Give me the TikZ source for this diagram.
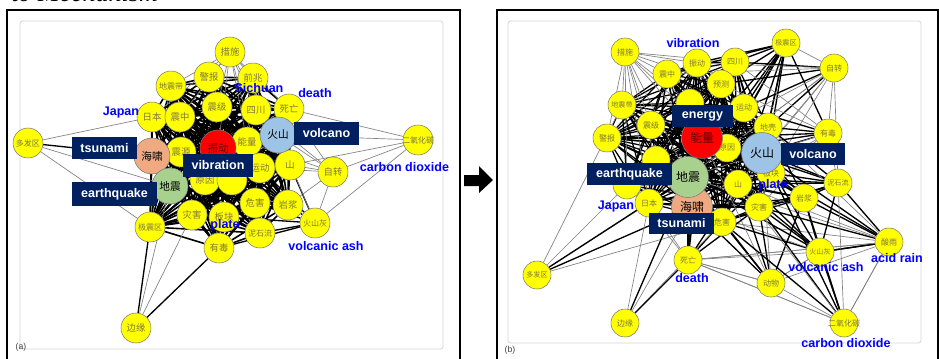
\documentclass[tikz,border=0pt]{standalone}
\usepackage{fontspec}
\setmainfont{Liberation Sans}
\newfontfamily\cjk{Noto Sans CJK SC}
\newfontfamily\tiser{Liberation Serif}
\pgfdeclarelayer{bgl}
\pgfdeclarelayer{edges}
\pgfsetlayers{bgl,edges,main}
\definecolor{nyel}{RGB}{255,255,0}
\definecolor{nbor}{RGB}{120,120,120}
\definecolor{ntxt}{RGB}{125,120,60}
\definecolor{nred}{RGB}{255,0,0}
\definecolor{nblu}{RGB}{157,195,230}
\definecolor{ngrn}{RGB}{169,209,142}
\definecolor{npk}{RGB}{240,170,130}
\definecolor{navy}{RGB}{0,32,96}
\definecolor{lblue}{RGB}{0,0,255}
\definecolor{fgray}{RGB}{215,215,215}
\definecolor{egray}{RGB}{130,130,130}
\tikzset{
  yn/.style={circle, draw=nbor, line width=0.4pt, fill=nyel, minimum size=22.5pt, inner sep=0pt, text=ntxt, font=\cjk\fontsize{7}{7}\selectfont},
  yn3/.style={yn, font=\cjk\fontsize{6}{6}\selectfont},
  yr/.style={yn, minimum size=21pt, font=\cjk\fontsize{6}{6}\selectfont},
  yr3/.style={yr, font=\cjk\fontsize{5.3}{5.3}\selectfont},
  bigl/.style={circle, draw=nbor, line width=0.4pt, minimum size=27pt, inner sep=0pt, text=black, font=\cjk\fontsize{8}{8}\selectfont},
  bigr/.style={bigl, minimum size=30.75pt, font=\cjk\fontsize{9}{9}\selectfont},
  wide/.style={label={[text=ntxt, font=\cjk\fontsize{6}{6}\selectfont]center:#1}},
  lbl/.style={text=lblue, inner sep=0pt, font=\bfseries\fontsize{9.4}{9.4}\selectfont},
  boxlab/.style={fill=navy, text=white, inner sep=0pt, font=\bfseries\fontsize{9.4}{9.4}\selectfont},
  corel/.style={black, line width=1.2pt},
  corer/.style={black, line width=0.95pt},
  bk/.style={black, line width=1pt},
  gy/.style={egray, line width=0.5pt},
  frm/.style={black, line width=1.5pt},
  ifrm/.style={fgray, line width=0.6pt, rounded corners=2pt},
  pan/.style={text=black!75, inner sep=0pt, font=\fontsize{6.5}{6.5}\selectfont}
}
\begin{document}
\begin{tikzpicture}[x=0.75pt,y=-0.75pt]
\useasboundingbox (0,0) rectangle (939,358);
\clip (0,0) rectangle (939,358);
\begin{pgfonlayer}{bgl}
\fill[white] (0,0) rectangle (939,358);
\draw[ifrm] (20,21) rectangle (443,349);
\draw[ifrm] (508,21) rectangle (921,343);
\end{pgfonlayer}
% title fragment
\node[anchor=base west, inner sep=0pt, font=\tiser\itshape\fontsize{19.5}{19.5}\selectfont] (title) at (11,1.5) {to Mechanism};
% frames
\draw[frm] (7,10) rectangle (460,380);
\draw[frm] (497,10) rectangle (938,380);
\node[pan] (pa) at (21,347) {(a)};
\node[pan] (pb) at (510,350) {(b)};
% arrow
\fill[black] (464,175) -- (479,175) -- (479,166) -- (493,180) -- (479,193) -- (479,186) -- (464,186) -- cycle;

% ================= LEFT PANEL NODES =================
\node[yn] (Lcs) at (230,52) {措施};
\node[yn] (Ljb) at (209,77) {警报};
\node[yn3] (Ldzd) at (171,86) {地震带};
\node[yn] (Lqz) at (253,78) {前兆};
\node[yn] (Lsc) at (256,110) {四川};
\node[yn] (Lsw) at (289,109) {死亡};
\node[yn] (Lzj) at (217,107) {震级};
\node[yn] (Lrb) at (152,117) {日本};
\node[yn] (Lzz) at (180,117) {震中};
\node[yn3] (Ldfq) at (28,143) {多发区};
\node[yn] (Lzy) at (181,152) {震源};
\node[yn] (Lnl) at (247,142) {能量};
\node[yn, wide=二氧化碳] (Leyh) at (418,140) {};
\node[yn] (Lsh) at (290,165) {山};
\node[yn] (Lyd) at (260,168) {运动};
\node[yn] (Lzzh) at (333,172) {自转};
\node[yn] (Lyy) at (205,180) {原因};
\node[yn] (Lhid) at (232,180) {};
\node[yn] (Lwh) at (255,203) {危害};
\node[yn] (Lyj) at (288,205) {岩浆};
\node[yn] (Lzh) at (192,215) {灾害};
\node[yn] (Lbk) at (224,217) {板块};
\node[yn3] (Ljzq) at (150,227) {极震区};
\node[yn3] (Lnsl) at (260,233) {泥石流};
\node[yn3] (Lhsh) at (315,223) {火山灰};
\node[yn] (Lyou) at (219,248) {有毒};
\node[yn] (Lby) at (136,328) {边缘};
\node[bigl, fill=npk] (Lhx) at (152,156) {海啸};
\node[bigl, fill=nred, text={rgb,255:red,90;green,0;blue,0}] (Lzd) at (218,148) {振动};
\node[bigl, fill=nblu] (Lhs) at (278,135) {火山};
\node[bigl, fill=ngrn] (Ldz) at (170,186) {地震};

% ================= RIGHT PANEL NODES =================
\node[yr] (Rcs) at (625,52) {措施};
\node[yr] (Rzd) at (697,63) {振动};
\node[yr] (Rzz) at (667,74) {震中};
\node[yr] (Rsc) at (735,62) {四川};
\node[yr3] (Rjzq) at (786,43) {极震区};
\node[yr] (Rzzh) at (834,68) {自转};
\node[yr] (Ryc) at (721,84) {预测};
\node[yr3] (Rdzd) at (622,105) {地震带};
\node[yr] (Ryd) at (744,108) {运动};
\node[yr] (Rh1) at (690,103) {};
\node[yr] (Rzj) at (651,125) {震级};
\node[yr] (Rjb) at (607,138) {警报};
\node[yr] (Rdq) at (768,127) {地壳};
\node[yr] (Ryou) at (828,133) {有毒};
\node[yr] (Ryy) at (727,148) {原因};
\node[yr] (Rh2) at (656,160) {};
\node[yr] (Rh3) at (627,185) {};
\node[yr] (Rsh) at (738,184) {山};
\node[yr] (Rbk) at (771,173) {板块};
\node[yr3] (Rnsl) at (838,183) {泥石流};
\node[yr] (Ryj) at (804,198) {岩浆};
\node[yr] (Rzh) at (759,207) {灾害};
\node[yr] (Rrb) at (649,203) {日本};
\node[yr] (Rwh) at (722,222) {危害};
\node[yr] (Rsw) at (688,260) {死亡};
\node[yr3] (Rdfq) at (537,275) {多发区};
\node[yr] (Rby) at (625,323) {边缘};
\node[yr3] (Rhsh) at (820,252) {火山灰};
\node[yr] (Rsuan) at (889,242) {酸雨};
\node[yr] (Rdw) at (771,283) {动物};
\node[yr, wide=二氧化碳] (Reyh) at (844,323) {};
\node[bigr, fill=nred, text={rgb,255:red,90;green,0;blue,0}] (Rnl) at (702,138) {能量};
\node[bigr, fill=nblu] (Rhs) at (762,153) {火山};
\node[bigr, fill=npk] (Rhx) at (692,207) {海啸};
\node[bigr, fill=ngrn] (Rdz) at (688,177) {地震};

% ================= EDGES =================
\begin{pgfonlayer}{edges}
% left core
\foreach \a [count=\i] in {Ljb,Ldzd,Lqz,Lsc,Lzj,Lrb,Lzz,Lhx,Lzd,Lzy,Lnl,Lhs,Lsw,Lsh,Lyd,Lyy,Lhid,Ldz,Lwh,Lyj,Lzh,Lbk,Ljzq,Lnsl,Lyou} {
  \foreach \b [count=\j] in {Ljb,Ldzd,Lqz,Lsc,Lzj,Lrb,Lzz,Lhx,Lzd,Lzy,Lnl,Lhs,Lsw,Lsh,Lyd,Lyy,Lhid,Ldz,Lwh,Lyj,Lzh,Lbk,Ljzq,Lnsl,Lyou} {
    \ifnum\j>\i \draw[corel] (\a) -- (\b); \fi
  }
}
\foreach \b in {Ljb,Lqz,Lsc,Lsw,Ldzd,Lzj,Lzz,Lnl,Lzd,Lhs,Lrb,Lyd}
  \draw[gy] (Lcs) -- (\b);
\foreach \b in {Lrb,Ldz,Ljzq} \draw[gy] (Ldfq) -- (\b);
\draw[bk] (Ldfq) -- (Lhx);
\foreach \b in {Lsw,Lhs,Lsh,Lzzh,Lhsh} \draw[gy] (Leyh) -- (\b);
\draw[bk] (Lby) -- (Ljzq);
\draw[bk] (Lby) -- (Lyou);
\draw[gy] (Lby) -- (Ldz);
\draw[gy] (Lby) -- (Lzh);
\foreach \b in {Lhs,Lsh,Lsw,Lyj,Lhsh,Lyd,Lsc,Lnl} \draw[gy] (Lzzh) -- (\b);
\foreach \b in {Lyj,Lnsl,Lsh,Lwh,Lyou,Lyd,Lbk} \draw[bk] (Lhsh) -- (\b);
\draw[gy] (Lhsh) -- (Lhs);

% right core
\foreach \a [count=\i] in {Rzz,Rzd,Rsc,Ryc,Ryd,Rdzd,Rzj,Rh1,Rnl,Ryy,Rdq,Rhs,Rh2,Rh3,Rdz,Rhx,Rsh,Rbk,Rzh,Rrb,Rwh,Rjb} {
  \foreach \b [count=\j] in {Rzz,Rzd,Rsc,Ryc,Ryd,Rdzd,Rzj,Rh1,Rnl,Ryy,Rdq,Rhs,Rh2,Rh3,Rdz,Rhx,Rsh,Rbk,Rzh,Rrb,Rwh,Rjb} {
    \ifnum\j>\i \draw[corer] (\a) -- (\b); \fi
  }
}
\foreach \b in {Rzz,Rzd,Rdzd,Rzj,Rjb,Rnl,Rh1,Ryc,Rdz,Rh2,Rrb,Rsc,Rh3,Ryy}
  \draw[gy] (Rcs) -- (\b);
\foreach \b in {Rsc,Rzd,Ryc,Ryd,Rdq,Rhs,Ryou,Ryy,Rnl,Rsh,Rzz,Rdz,Rhx,Rzh}
  \draw[bk] (Rjzq) -- (\b);
\draw[gy] (Rjzq) -- (Rzzh);
\foreach \b in {Rsc,Ryc,Ryd,Rdq} \draw[bk] (Rzzh) -- (\b);
\foreach \b in {Rhs,Ryou,Rnl,Rzd,Rbk,Rnsl,Rzz,Ryy,Rsh,Rdz} \draw[gy] (Rzzh) -- (\b);
\foreach \b in {Rdq,Rhs,Ryd,Rnl,Ryy} \draw[bk] (Ryou) -- (\b);
\foreach \b in {Ryc,Rsc,Rsh,Rbk,Rnsl,Rzh,Rdz} \draw[gy] (Ryou) -- (\b);
\foreach \b in {Rhs,Ryj,Rbk,Rsh,Rzh,Rwh,Rdq,Rnl,Rdz} \draw[bk] (Rnsl) -- (\b);
\foreach \b in {Rhs,Rbk,Rsh,Rzh,Rwh,Rdq,Rnl,Rdz,Ryy,Rhx} \draw[corer] (Ryj) -- (\b);
\foreach \b in {Rnsl,Ryj,Rhsh,Rzh,Rhs,Rbk} \draw[bk] (Rsuan) -- (\b);
\foreach \b in {Rwh,Rsw,Rsh,Rdw,Reyh,Rdq,Rdz} \draw[gy] (Rsuan) -- (\b);
\foreach \b in {Ryj,Rnsl,Rzh,Rwh,Reyh,Rsh,Rhs,Rsuan,Rdz,Rnl} \draw[bk] (Rhsh) -- (\b);
\foreach \b in {Rdw,Rsw,Rhx} \draw[gy] (Rhsh) -- (\b);
\foreach \b in {Rwh,Rzh,Rhx,Rdz,Rsh,Ryj} \draw[bk] (Rdw) -- (\b);
\foreach \b in {Rsw,Rhsh,Reyh,Rnl,Rhs} \draw[gy] (Rdw) -- (\b);
\foreach \b in {Rhs,Rwh,Rzh,Ryj} \draw[bk] (Reyh) -- (\b);
\foreach \b in {Rsuan,Rnsl,Rsw,Rsh} \draw[gy] (Reyh) -- (\b);
\foreach \b in {Rhx,Rwh,Rzh,Rdz,Rsh,Rnl} \draw[bk] (Rsw) -- (\b);
\foreach \b in {Rrb,Rdw,Rsuan,Reyh,Rh3} \draw[gy] (Rsw) -- (\b);
\foreach \b in {Rrb,Rh3,Rwh,Rdzd} \draw[gy] (Rdfq) -- (\b);
\foreach \b in {Rdz,Rhx} \draw[bk] (Rdfq) -- (\b);
\foreach \b in {Rrb,Rhx,Rwh} \draw[gy] (Rby) -- (\b);
\foreach \b in {Rsw,Rdz} \draw[bk] (Rby) -- (\b);
\end{pgfonlayer}

% ================= LABELS =================
\node[boxlab, minimum width=48.75pt, minimum height=16.5pt] (Btsu) at (104.5,148) {tsunami};
\node[boxlab, minimum width=52.5pt, minimum height=17.25pt] (Bvib) at (218,165.5) {vibration};
\node[boxlab, minimum width=48.75pt, minimum height=17.25pt] (Bvol) at (326.5,133.5) {volcano};
\node[boxlab, minimum width=63.75pt, minimum height=18pt] (Beq) at (114.5,194) {earthquake};
\node[lbl] (tSich) at (259,88) {Sichuan};
\node[lbl] (tDeath) at (315,93) {death};
\node[lbl] (tJap) at (121,112) {Japan};
\node[lbl] (tCO) at (404.5,167) {carbon dioxide};
\node[lbl] (tPl) at (225,225) {plate};
\node[lbl] (tVa) at (326,246) {volcanic ash};

\node[boxlab, minimum width=45.75pt, minimum height=16.5pt] (Bene) at (702.5,116) {energy};
\node[boxlab, minimum width=48pt, minimum height=16.5pt] (Bvol2) at (813,154) {volcano};
\node[boxlab, minimum width=63.75pt, minimum height=16.5pt] (Beq2) at (629.5,174) {earthquake};
\node[boxlab, minimum width=48.75pt, minimum height=15.75pt] (Btsu2) at (681.5,223.5) {tsunami};
\node[lbl] (tVib2) at (693,43) {vibration};
\node[lbl] (tJap2) at (616,206) {Japan};
\node[lbl] (tDeath2) at (692,278) {death};
\node[lbl] (tPl2) at (773,185) {plate};
\node[lbl] (tVa2) at (826,267) {volcanic ash};
\node[lbl] (tAr) at (897,258) {acid rain};
\node[lbl] (tCO2) at (846,343) {carbon dioxide};
\end{tikzpicture}
\end{document}
